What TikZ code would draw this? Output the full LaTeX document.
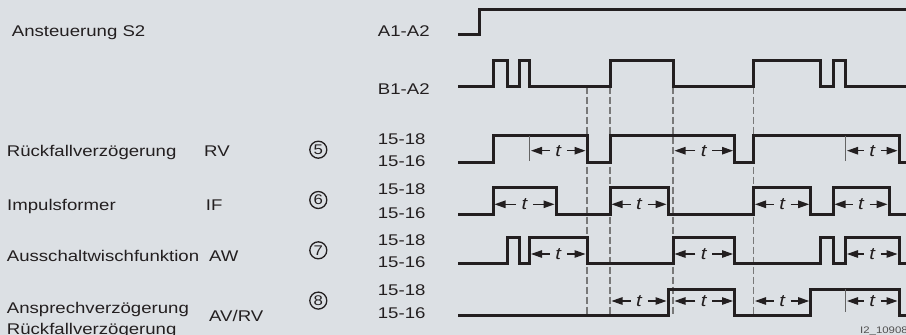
\documentclass[tikz,border=0pt]{standalone}
\usepackage{fontspec}
\setmainfont{Liberation Sans}[FakeStretch=1.2]
\usetikzlibrary{arrows.meta}
\definecolor{bg}{RGB}{220,224,228}
\definecolor{sig}{RGB}{35,31,32}
\definecolor{dashc}{RGB}{120,120,120}
\definecolor{tickc}{RGB}{100,100,100}
\definecolor{codec}{RGB}{80,80,80}
\newcommand\tarr[3]{%
  \draw[tarrow] ({(#1+#2)/2-8.5},#3) -- ({#1+1.5},#3);
  \draw[tarrow] ({(#1+#2)/2+8.5},#3) -- ({#2-1.5},#3);
  \node[tlabel] at ({(#1+#2)/2},#3) {t};
}
\begin{document}
\begin{tikzpicture}[x=1pt,y=-1pt,
  lbl/.style={anchor=base west, inner sep=0pt, font=\fontsize{15.5}{18}\selectfont, text=sig},
  sigline/.style={draw=sig, line width=3pt, line join=miter},
  dashline/.style={draw=dashc, line width=1.5pt, dash pattern=on 7pt off 3pt},
  tarrow/.style={draw=sig, line width=1.2pt, -{Triangle[length=11pt,width=7.5pt]}},
  tlabel/.style={font=\fontsize{17}{18}\selectfont\itshape, inner sep=0pt, text=sig},
  tickline/.style={draw=tickc, line width=1.1pt},
  numc/.style={circle, draw=sig, line width=1.3pt, inner sep=0pt, minimum size=17pt, font=\fontsize{14}{15}\selectfont, text=sig},
]
\useasboundingbox (0,0) rectangle (906,335);
\fill[bg] (0,0) rectangle (906,335);

% left labels
\node[lbl] (ans) at (11.7,36) {Ansteuerung S2};
\node[lbl] (a1) at (377.7,36) {A1-A2};
\node[lbl] (b1) at (377.7,94.3) {B1-A2};

\node[lbl] (rv) at (6.7,156) {Rückfallverzögerung};
\node[lbl] (rvk) at (204,156) {RV};
\node[numc] (n5) at (318.3,149.7) {5};
\node[lbl] (r1a) at (377.7,144) {15-18};
\node[lbl] (r1b) at (377.7,166.7) {15-16};

\node[lbl] (imp) at (7,210.7) {Impulsformer};
\node[lbl] (ifk) at (205.7,210.7) {IF};
\node[numc] (n6) at (318.3,200) {6};
\node[lbl] (r2a) at (377.7,194) {15-18};
\node[lbl] (r2b) at (377.7,218.3) {15-16};

\node[lbl] (aus) at (6.7,261.7) {Ausschaltwischfunktion};
\node[lbl] (awk) at (209,261.7) {AW};
\node[numc] (n7) at (318.3,250.3) {7};
\node[lbl] (r3a) at (377.7,245) {15-18};
\node[lbl] (r3b) at (377.7,267.3) {15-16};

\node[lbl] (ansp) at (6.7,313.3) {Ansprechverzögerung};
\node[lbl] (ruck) at (6.7,334.5) {Rückfallverzögerung};
\node[lbl] (avk) at (209,321.7) {AV/RV};
\node[numc] (n8) at (318.3,300.6) {8};
\node[lbl] (r4a) at (377.7,295) {15-18};
\node[lbl] (r4b) at (377.7,318.3) {15-16};

\node[anchor=base west, inner sep=0pt, font=\fontsize{9.5}{11}\selectfont, text=codec] (code) at (860,333.3) {I2\_10908};

% dashed reference lines
\foreach \xx in {587,610,673,753.5}
  \draw[dashline] (\xx,86.7) -- (\xx,315.3);

% waveforms
\draw[sigline] (458,34.3) -- (479,34.3) -- (479,9) -- (906,9);
\draw[sigline] (458,86.7) -| (493,60.3) -| (507.5,86.7) -| (519,60.3) -| (529.5,86.7)
  -| (610,60.3) -| (673,86.7) -| (753.5,60.3) -| (820,86.7) -| (833,60.3) -| (845.5,86.7) -- (906,86.7);
\draw[sigline] (458,162) -| (493,135.7) -| (587,162) -| (610,135.7) -| (734.5,162)
  -| (753.5,135.7) -| (899,162) -- (906,162);
\draw[sigline] (458,214) -| (493,187.7) -| (556,214) -| (610,187.7) -| (668,214)
  -| (753.5,187.7) -| (810.7,214) -| (833,187.7) -| (889,214) -- (906,214);
\draw[sigline] (458,263.3) -| (507.5,237.7) -| (519,263.3) -| (529.5,237.7) -| (587,263.3)
  -| (673,237.7) -| (734.5,263.3) -| (820,237.7) -| (833,263.3) -| (845.5,237.7) -| (899,263.3) -- (906,263.3);
\draw[sigline] (458,315.3) -| (668,289) -| (734.5,315.3) -| (810.7,289) -| (899,315.3) -- (906,315.3);

% ticks
\draw[tickline] (529.5,135.7) -- (529.5,160.5);
\draw[tickline] (845.5,135.7) -- (845.5,160.5);
\draw[tickline] (845.5,289) -- (845.5,311.5);

% time arrows
\tarr{529.5}{587}{150.7}
\tarr{673}{734.5}{150.7}
\tarr{845.5}{899}{150.7}

\tarr{493}{556}{204.3}
\tarr{610}{668}{204.3}
\tarr{753.5}{810.7}{204.3}
\tarr{833}{889}{204.3}

\tarr{529.5}{587}{254}
\tarr{673}{734.5}{254}
\tarr{845.5}{899}{254}

\tarr{610}{668}{301}
\tarr{673}{734.5}{301}
\tarr{753.5}{810.7}{301}
\tarr{845.5}{899}{301}
\end{tikzpicture}
\end{document}
